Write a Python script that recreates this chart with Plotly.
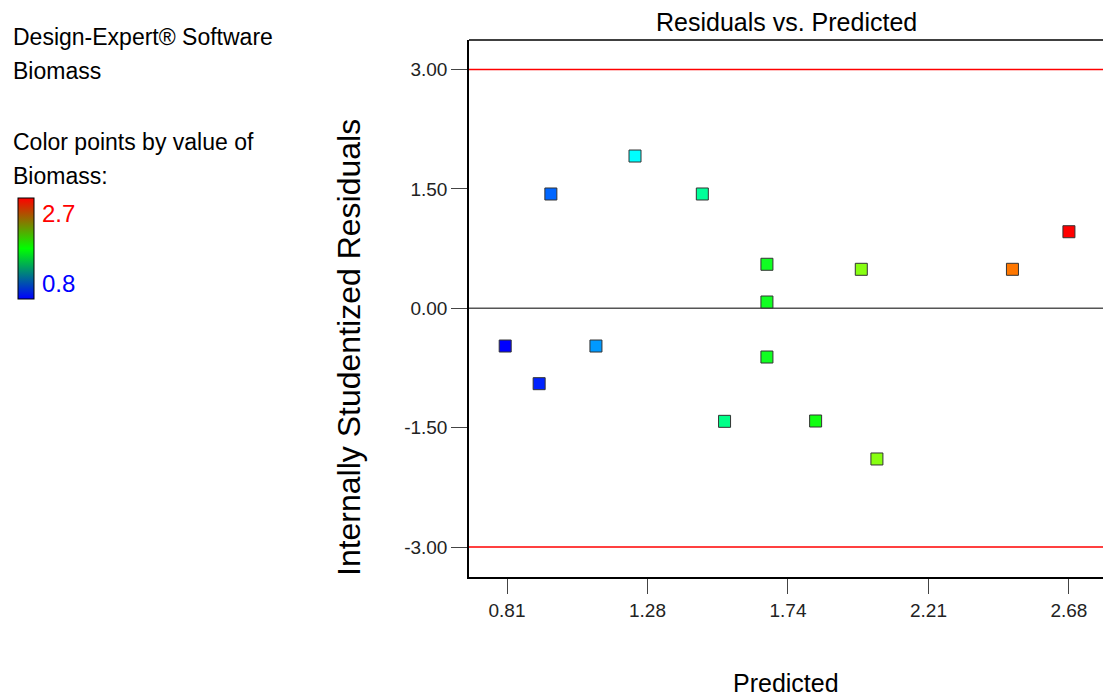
import plotly.graph_objects as go

# ---- data ----
predicted = [0.804, 0.917, 0.956, 1.106, 1.236, 1.460, 1.534, 1.675, 1.675, 1.675,
             1.837, 1.989, 2.041, 2.492, 2.680]
residuals = [-0.474, -0.947, 1.436, -0.474, 1.913, 1.436, -1.420, 0.553, 0.079, -0.612,
             -1.416, 0.490, -1.893, 0.490, 0.962]
point_colors = ["#0000ff", "#0022ff", "#0066ff", "#0099ff", "#00ffff", "#00ff99", "#00ff88",
                "#11ff22", "#11ff22", "#11ff22", "#11ff11", "#88ff11", "#88ff11", "#ff7700", "#ff0000"]
x_tickvals = [0.81, 1.2775, 1.745, 2.2125, 2.68]
x_ticktext = ["0.81", "1.28", "1.74", "2.21", "2.68"]
y_tickvals = [-3.0, -1.5, 0.0, 1.5, 3.0]
y_ticktext = ["-3.00", "-1.50", "0.00", "1.50", "3.00"]
limit_lines = [3.0, -3.0]
biomass_range = [0.8, 2.7]

FONT = "Liberation Sans, Arial, sans-serif"
W, H = 1103, 700
L, T, B, R = 469, 40, 123, 0
pw, ph = W - L - R, H - T - B

def px_x(p):
    return (p - L) / pw

def px_y(p):
    return (H - B - p) / ph

fig = go.Figure()

fig.add_trace(go.Scatter(
    x=predicted, y=residuals, mode="markers",
    marker=dict(symbol="square", size=12, color=point_colors,
                line=dict(color="#333333", width=1)),
    showlegend=False, hoverinfo="x+y"))

# dummy trace to render the colour legend bar
fig.add_trace(go.Scatter(
    x=[None], y=[None], mode="markers", showlegend=False, hoverinfo="skip",
    marker=dict(color=[biomass_range[0]], cmin=biomass_range[0], cmax=biomass_range[1],
                colorscale=[[0, "#0000ff"], [0.5, "#00ff00"], [1, "#ff0000"]],
                showscale=True,
                colorbar=dict(x=px_x(18), y=px_y(299), xanchor="left", yanchor="bottom",
                              len=101, lenmode="pixels", thickness=16,
                              xpad=0, ypad=0, outlinewidth=1, outlinecolor="#000000",
                              showticklabels=False, ticks=""))))

shapes = []
for v in limit_lines:
    shapes.append(dict(type="line", xref="paper", yref="y", x0=0, x1=1, y0=v, y1=v,
                       line=dict(color="#ff0000", width=1.5), layer="below"))
shapes.append(dict(type="line", xref="paper", yref="y", x0=0, x1=1, y0=0, y1=0,
                   line=dict(color="#555555", width=1.5), layer="below"))
shapes.append(dict(type="line", xref="paper", yref="paper", x0=0, x1=1, y0=1, y1=1,
                   line=dict(color="#000000", width=1.5)))

annotations = [
    dict(text="Residuals vs. Predicted", xref="paper", yref="paper", x=0.5, y=px_y(22),
         xanchor="center", yanchor="middle", showarrow=False,
         font=dict(family=FONT, size=25, color="#000000")),
    dict(text="Predicted", xref="paper", yref="paper", x=0.5, y=px_y(683),
         xanchor="center", yanchor="middle", showarrow=False,
         font=dict(family=FONT, size=25, color="#000000")),
    dict(text="Internally Studentized Residuals", xref="paper", yref="paper",
         x=px_x(349), y=px_y(348), xanchor="center", yanchor="middle", textangle=-90,
         showarrow=False, font=dict(family=FONT, size=32, color="#000000")),
]
left_lines = [("Design-Expert® Software", 37), ("Biomass", 71),
              ("Color points by value of", 142), ("Biomass:", 176)]
for txt, yy in left_lines:
    annotations.append(dict(text=txt, xref="paper", yref="paper", x=px_x(11), y=px_y(yy),
                            xanchor="left", yanchor="middle", showarrow=False,
                            font=dict(family=FONT, size=23, color="#000000")))
annotations.append(dict(text="2.7", xref="paper", yref="paper", x=px_x(40), y=px_y(213),
                        xanchor="left", yanchor="middle", showarrow=False,
                        font=dict(family=FONT, size=24, color="#ff0000")))
annotations.append(dict(text="0.8", xref="paper", yref="paper", x=px_x(40), y=px_y(283),
                        xanchor="left", yanchor="middle", showarrow=False,
                        font=dict(family=FONT, size=24, color="#0000ff")))

# axis ranges from pixel calibration
x_per_px = 1 / 300.5
y_per_px = 1 / 79.6
x0 = 0.81 - (507 - L) * x_per_px
x1 = 0.81 + (W - R - 507) * x_per_px
y1 = (308.3 - T) * y_per_px
y0 = -((H - B) - 308.3) * y_per_px

fig.update_layout(
    width=W, height=H, margin=dict(l=L, r=R, t=T, b=B, pad=0),
    paper_bgcolor="#ffffff", plot_bgcolor="#ffffff",
    shapes=shapes, annotations=annotations,
    xaxis=dict(range=[x0, x1], tickvals=x_tickvals, ticktext=x_ticktext,
               showgrid=False, zeroline=False, showline=True, linecolor="#000000", linewidth=1.5,
               ticks="outside", ticklen=15, tickcolor="#444444", tickwidth=1.2,
               tickfont=dict(family=FONT, size=19, color="#222222")),
    yaxis=dict(range=[y0, y1], tickvals=y_tickvals, ticktext=y_ticktext,
               showgrid=False, zeroline=False, showline=True, linecolor="#000000", linewidth=1.5,
               ticks="outside", ticklen=16, tickcolor="#444444", tickwidth=1.2,
               tickfont=dict(family=FONT, size=19, color="#222222")),
)

fig.write_html("out.html")
